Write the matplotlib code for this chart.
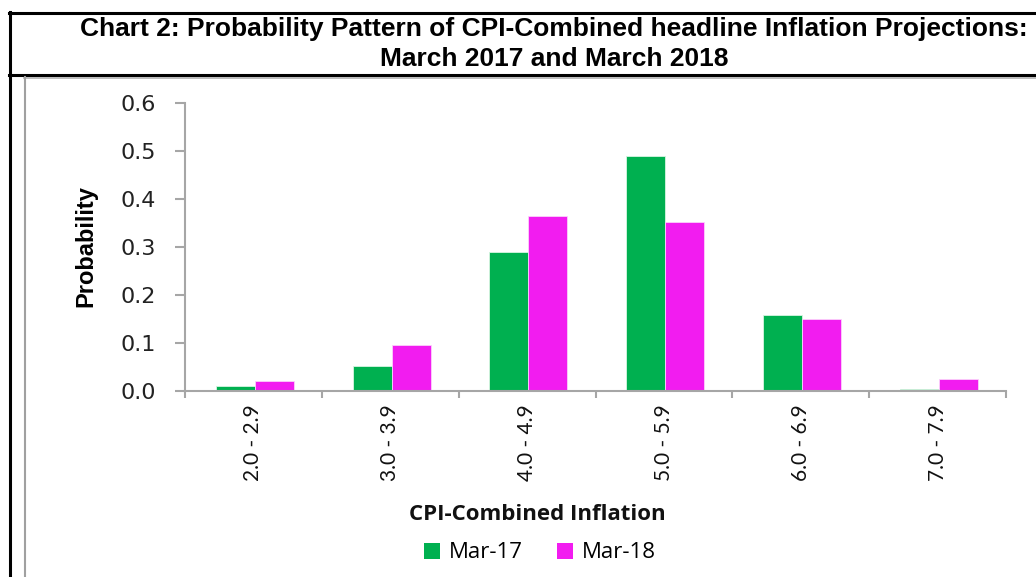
import matplotlib
matplotlib.use("Agg")
import matplotlib.pyplot as plt
from matplotlib.lines import Line2D
from matplotlib.patches import Patch
import numpy as np

# ── Data ──
categories = ["2.0 - 2.9", "3.0 - 3.9", "4.0 - 4.9", "5.0 - 5.9", "6.0 - 6.9", "7.0 - 7.9"]
mar17 = [0.010, 0.052, 0.290, 0.490, 0.158, 0.004]
mar18 = [0.020, 0.095, 0.364, 0.351, 0.149, 0.025]
series_names = ["Mar-17", "Mar-18"]
yticks = [0.0, 0.1, 0.2, 0.3, 0.4, 0.5, 0.6]

GREEN = "#00B050"
MAGENTA = "#F21CF0"
AXIS_GRAY = "#A6A6A6"

W, H = 1036, 577
fig = plt.figure(figsize=(W / 100, H / 100), dpi=100)


def px(x, y):
    """pixel coords (top-left origin) -> figure fraction"""
    return x / W, 1 - y / H


# ── Axes placed to match reference pixel box ──
left, right, top, bottom = 185, 1006, 102.7, 390.7
ax = fig.add_axes([left / W, 1 - bottom / H, (right - left) / W, (bottom - top) / H])

x = np.arange(len(categories))
bw = 0.285
ax.bar(x - bw / 2 + 0.01, mar17, bw, color=GREEN, edgecolor="#d8f5e2", linewidth=0.6)
ax.bar(x + bw / 2 + 0.01, mar18, bw, color=MAGENTA, edgecolor="#fbd0fb", linewidth=0.6)

ax.set_xlim(-0.5, len(categories) - 0.5)
ax.set_ylim(0, 0.6)

for s in ["top", "right"]:
    ax.spines[s].set_visible(False)
for s in ["left", "bottom"]:
    ax.spines[s].set_color(AXIS_GRAY)
    ax.spines[s].set_linewidth(1.5)

ax.set_yticks(yticks)
ax.set_yticklabels([f"{v:.1f}" for v in yticks], fontsize=16, family="DejaVu Sans", color="#222222")
ax.tick_params(axis="y", direction="out", length=7, width=1.5, color=AXIS_GRAY, pad=14)

# category boundaries as major ticks, labels on minor ticks at centres
ax.set_xticks(np.arange(len(categories) + 1) - 0.5)
ax.set_xticklabels([])
ax.tick_params(axis="x", which="major", direction="out", length=5, width=1.5, color=AXIS_GRAY)
ax.set_xticks(x, minor=True)
ax.set_xticklabels(categories, minor=True, rotation=90, fontsize=15, family="Lato", color="#111111")
ax.tick_params(axis="x", which="minor", length=0, pad=10)

# ── Axis titles ──
fig.text(*px(86, 246), "Probability", rotation=90, ha="center", va="center",
         fontsize=17, fontweight="bold", family="Liberation Sans")
fig.text(*px(537, 515), "CPI-Combined Inflation", ha="center", va="center",
         fontsize=16, fontweight="bold", family="Open Sans", color="#111111")

# ── Legend ──
handles = [Patch(facecolor=GREEN, edgecolor="none"), Patch(facecolor=MAGENTA, edgecolor="none")]
fig.legend(handles, series_names, loc="center", bbox_to_anchor=px(540, 553), ncol=2,
           frameon=False, prop={"family": "Open Sans", "size": 16},
           handlelength=0.75, handleheight=0.75, handletextpad=0.4, columnspacing=1.5)

# ── Title box ──
title_font = dict(fontsize=19, fontweight="bold", family="Liberation Sans",
                  ha="center", va="center")
fig.text(*px(554, 29), "Chart 2: Probability Pattern of CPI-Combined headline Inflation Projections:", **title_font)
fig.text(*px(554, 59), "March 2017 and March 2018", **title_font)

# frame lines
fig.add_artist(Line2D([px(9, 0)[0], 1], [px(0, 13)[1]] * 2, color="black", lw=2.2))
fig.add_artist(Line2D([px(9, 0)[0], 1], [px(0, 75)[1]] * 2, color="black", lw=2.2))
fig.add_artist(Line2D([px(24, 0)[0], 1], [px(0, 77.5)[1]] * 2, color="#B0B0B0", lw=1.2))
fig.add_artist(Line2D([px(10, 0)[0]] * 2, [px(0, 12)[1], 0], color="black", lw=2.2))
fig.add_artist(Line2D([px(24.5, 0)[0]] * 2, [px(0, 77)[1], 0], color="#A0A0A0", lw=1.5))

fig.savefig("out.png", dpi=100)
